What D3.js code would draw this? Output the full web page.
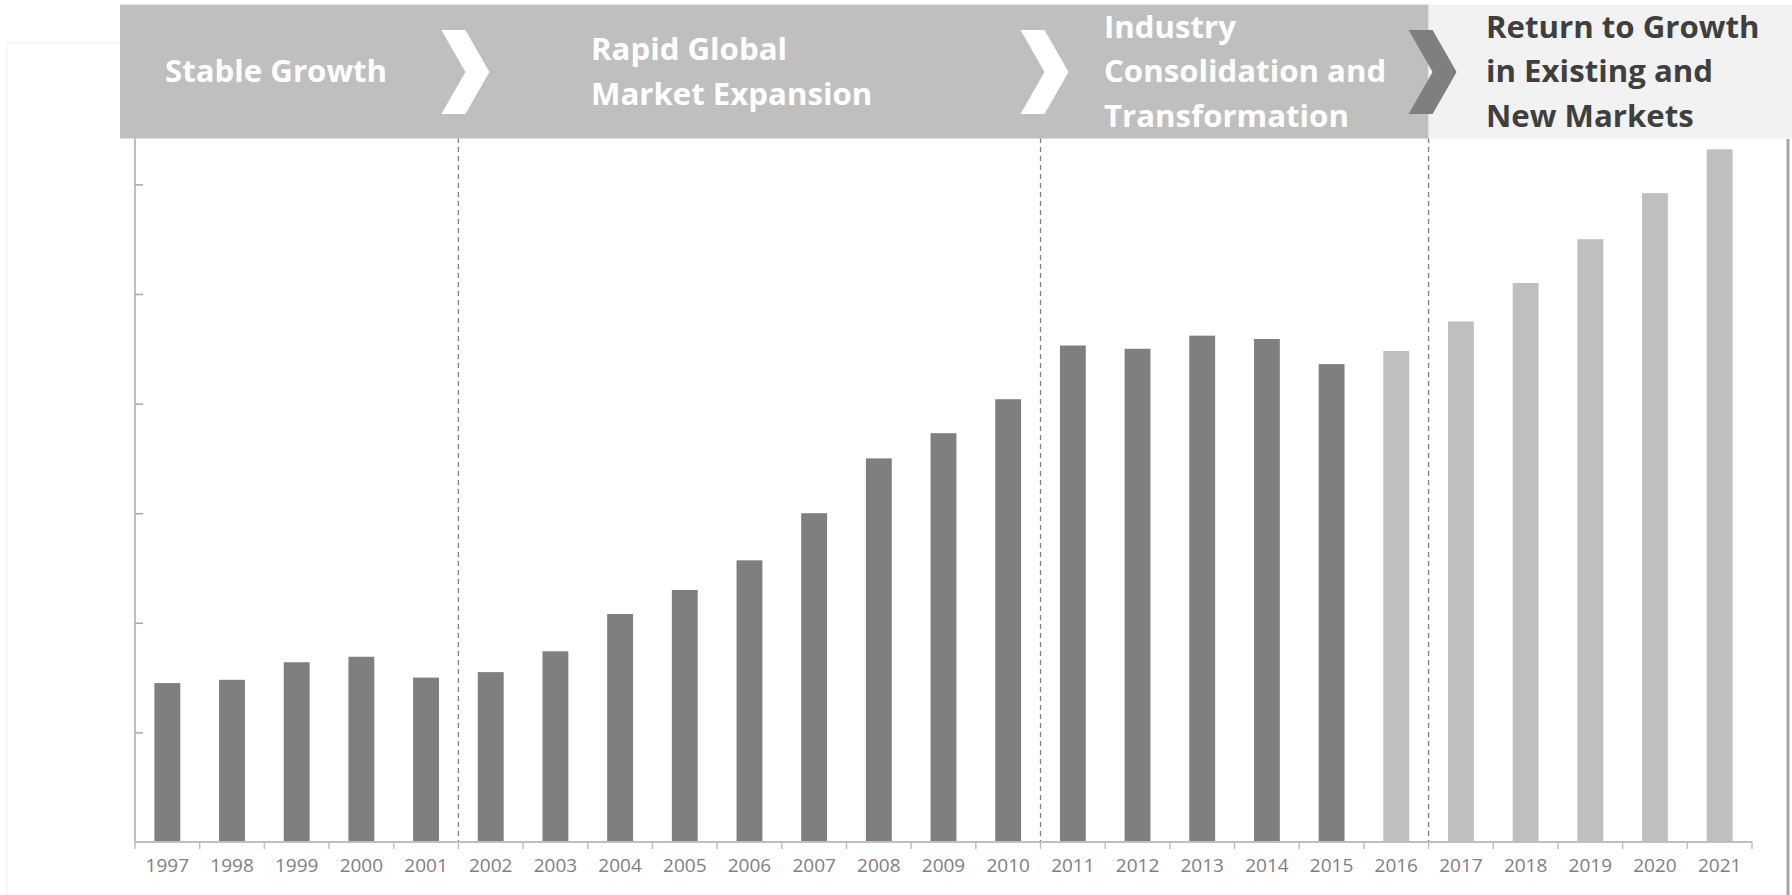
<!DOCTYPE html>
<html>
<head>
<meta charset="utf-8">
<script src="https://cdn.jsdelivr.net/npm/d3@7"></script>
<style>
html,body{margin:0;padding:0;background:#fff;}
svg{display:block;}
</style>
</head>
<body>
<svg id="chart" width="1792" height="895"></svg>
<script>
// ---- data ----
const years = ["1997","1998","1999","2000","2001","2002","2003","2004","2005","2006","2007","2008","2009","2010","2011","2012","2013","2014","2015","2016","2017","2018","2019","2020","2021"];
const values = [1.45,1.48,1.64,1.69,1.50,1.55,1.74,2.08,2.30,2.57,3.00,3.50,3.73,4.04,4.53,4.50,4.62,4.59,4.36,4.48,4.75,5.10,5.50,5.92,6.32];
const forecastFrom = "2016";
const yTicks = [1,2,3,4,5,6];
const phaseBreaks = ["2002","2011","2017"];
const phaseLabels = [
  ["Stable Growth"],
  ["Rapid Global","Market Expansion"],
  ["Industry","Consolidation and","Transformation"],
  ["Return to Growth","in Existing and","New Markets"]
];

// ---- layout ----
const svg = d3.select("#chart");
const left = 135, right = 1752, base = 842, unit = 109.6;
const x = d3.scaleBand().domain(years).range([left, right]).paddingInner(0.6).paddingOuter(0.3);
const y = d3.scaleLinear().domain([0, 7]).range([base, base - 7 * unit]);
const boundary = yr => x(yr) - (x.step() - x.bandwidth()) / 2;

// faint outer frame
svg.append("rect").attr("x", 7).attr("y", 43).attr("width", 1781).attr("height", 860)
  .attr("fill", "none").attr("stroke", "#f0f0f0").attr("stroke-width", 1);
svg.append("line").attr("x1", 1788).attr("x2", 1788).attr("y1", 139).attr("y2", 895)
  .attr("stroke", "#a6a6a6").attr("stroke-width", 3);

// bars
svg.append("g").selectAll("rect").data(years).join("rect")
  .attr("x", d => x(d))
  .attr("width", x.bandwidth())
  .attr("y", (d, i) => y(values[i]))
  .attr("height", (d, i) => base - y(values[i]))
  .attr("fill", d => (+d >= +forecastFrom) ? "#bfbfbf" : "#7f7f7f");

// dashed separators
svg.append("g").selectAll("line").data(phaseBreaks).join("line")
  .attr("x1", d => boundary(d)).attr("x2", d => boundary(d))
  .attr("y1", 138).attr("y2", base)
  .attr("stroke", "#7f7f7f").attr("stroke-width", 1.3).attr("stroke-dasharray", "5,4");

// y axis (ticks inside)
const yAxis = d3.axisRight(y).tickValues(yTicks).tickSize(8).tickFormat("");
const gy = svg.append("g").attr("transform", `translate(${left},0)`).call(yAxis);
gy.select(".domain").attr("stroke", "#bfbfbf").attr("stroke-width", 2)
  .attr("d", `M0,${base}V${y(7)}`);
gy.selectAll(".tick line").attr("stroke", "#a6a6a6").attr("stroke-width", 1.5);

// x axis
const xAxis = d3.axisBottom(x).tickSize(0).tickPadding(17);
const gx = svg.append("g").attr("transform", `translate(0,${base})`).call(xAxis);
gx.select(".domain").attr("stroke", "#bfbfbf").attr("stroke-width", 2).attr("d", `M${left},0H${right}`);
gx.selectAll(".tick text").attr("font-family", "'Open Sans', sans-serif").attr("font-size", 19)
  .attr("fill", "#7f7f7f").attr("dy", "0.71em");
// boundary ticks
const edges = years.map(d => boundary(d)).concat([right]);
gx.append("g").selectAll("line").data(edges).join("line")
  .attr("x1", d => d).attr("x2", d => d).attr("y1", 0).attr("y2", 7)
  .attr("stroke", "#bfbfbf").attr("stroke-width", 1.5);

// banner
const bTop = 4.6, bBot = 138.5;
const splitX = boundary(phaseBreaks[2]);
svg.append("rect").attr("x", 120).attr("y", bTop).attr("width", splitX - 120).attr("height", bBot - bTop).attr("fill", "#bfbfbf");
svg.append("rect").attr("x", splitX).attr("y", bTop).attr("width", 1792 - splitX).attr("height", bBot - bTop).attr("fill", "#f2f2f2");

// chevrons
const chevW = 48, chevTop = 30, chevBot = 114, chevMid = 72;
function chevron(cx, color) {
  const x0 = cx - chevW / 2;
  const pts = [[x0, chevTop], [x0 + chevW / 2, chevTop], [x0 + chevW, chevMid], [x0 + chevW / 2, chevBot], [x0, chevBot], [x0 + chevW / 2, chevMid]];
  svg.append("polygon").attr("points", pts.map(p => p.join(",")).join(" ")).attr("fill", color);
}
chevron(boundary(phaseBreaks[0]) + 7, "#ffffff");
chevron(boundary(phaseBreaks[1]) + 4, "#ffffff");
chevron(boundary(phaseBreaks[2]) + 4, "#7f7f7f");

// phase labels
const labelX = [165, 591, 1104, 1486];
const lineGap = 44.5;
phaseLabels.forEach((lines, i) => {
  const n = lines.length;
  const cy = 71.5;
  const t = svg.append("text")
    .attr("font-family", "'Open Sans', sans-serif")
    .attr("font-weight", 700)
    .attr("font-size", 31.2)
    .attr("fill", i === 3 ? "#3f3f3f" : "#ffffff");
  lines.forEach((ln, j) => {
    t.append("tspan").attr("x", labelX[i])
      .attr("y", cy + (j - (n - 1) / 2) * lineGap)
      .attr("dy", "0.35em").text(ln);
  });
});
</script>
</body>
</html>
